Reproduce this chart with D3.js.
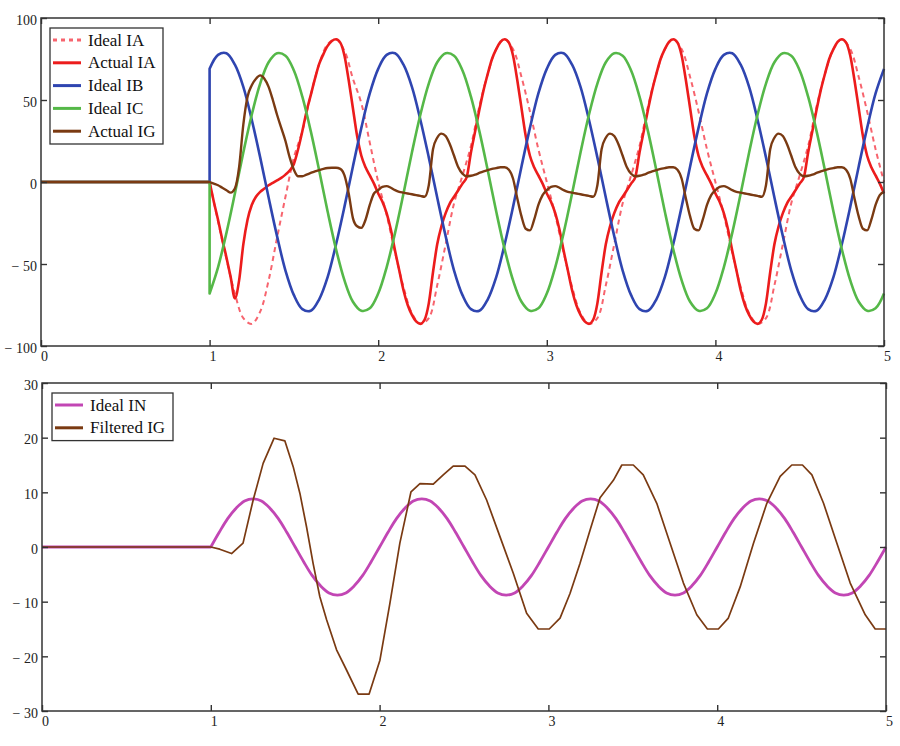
<!DOCTYPE html>
<html>
<head>
<meta charset="utf-8">
<script src="https://cdn.jsdelivr.net/npm/d3@7"></script>
<style>
body { margin: 0; background: #fff; }
svg text { font-family: "Liberation Serif", "Times New Roman", serif; }
</style>
</head>
<body>
<svg id="chart" width="900" height="746"></svg>
<script>
// every current is zero until the fault at t = 1, samples below start there
const sampleStart = 1
const fineStep = 0.025
const coarseStep = 0.05

const xTicks = [0, 1, 2, 3, 4, 5]
const topYTicks = [-100, -50, 0, 50, 100]
const bottomYTicks = [-30, -20, -10, 0, 10, 20, 30]

const topLegend = ['Ideal IA', 'Actual IA', 'Ideal IB', 'Ideal IC', 'Actual IG']
const bottomLegend = ['Ideal IN', 'Filtered IG']

// one line per cycle (coarse step)
const idealIA = [
    0, -24, -47, -68, -83, -86.5, -79, -60, -34, -9, 15, 31, 53, 72, 84, 87, 80, 63, 48, 24,
    0, -20, -43, -64, -80, -86.5, -83, -63, -38, -13, 4, 22, 46, 66, 81, 87, 81, 64, 43, 20,
    0, -20, -43, -64, -80, -86.5, -83, -63, -38, -13, 4, 22, 46, 66, 81, 87, 81, 64, 43, 20,
    0, -20, -43, -64, -80, -86.5, -83, -63, -38, -13, 4, 22, 46, 66, 81, 87, 81, 64, 43, 20,
    0
]

// fine step
const actualIA = [
    0, -12, -23, -35, -46, -58, -71, -60, -38, -23, -14, -9, -6, -4, -2, -0.5, 1, 2.5, 4.5, 7,
    11, 20, 31, 43, 53, 63, 72, 78, 83, 86, 87, 85, 77, 62, 45, 28, 16, 9, 4, -1,
    -7, -12, -19, -29, -42, -54, -66, -75, -81, -85, -86.5, -84, -74, -55, -38, -27, -19, -13, -9, -5,
    -1, 3, 18, 31, 44, 56, 66, 75, 81, 85.5, 87, 85, 77, 62, 45, 28, 16, 9, 4, -1,
    -7, -12, -19, -29, -42, -54, -66, -75, -81, -85, -86.5, -84, -74, -55, -38, -27, -19, -13, -9, -5,
    -1, 3, 18, 31, 44, 56, 66, 75, 81, 85.5, 87, 85, 77, 62, 45, 28, 16, 9, 4, -1,
    -7, -12, -19, -29, -42, -54, -66, -75, -81, -85, -86.5, -84, -74, -55, -38, -27, -19, -13, -9, -5,
    -1, 3, 18, 31, 44, 56, 66, 75, 81, 85.5, 87, 85, 77, 62, 45, 28, 16, 9, 4, -1,
    -7
]

const idealIB = [
    69, 77.5, 78.5, 71.5, 58, 38, 15, -9.5, -33, -54, -69, -77.5, -78.5, -71.5, -58, -38, -15, 9.5, 33, 54,
    69, 77.5, 78.5, 71.5, 58, 38, 15, -9.5, -33, -54, -69, -77.5, -78.5, -71.5, -58, -38, -15, 9.5, 33, 54,
    69, 77.5, 78.5, 71.5, 58, 38, 15, -9.5, -33, -54, -69, -77.5, -78.5, -71.5, -58, -38, -15, 9.5, 33, 54,
    69, 77.5, 78.5, 71.5, 58, 38, 15, -9.5, -33, -54, -69, -77.5, -78.5, -71.5, -58, -38, -15, 9.5, 33, 54,
    69
]

const idealIC = [
    -68, -52, -31, -7, 18, 41, 60, 73, 78.5, 77, 68, 52, 31, 7, -18, -41, -60, -73, -78.5, -77,
    -68, -52, -31, -7, 18, 41, 60, 73, 78.5, 77, 68, 52, 31, 7, -18, -41, -60, -73, -78.5, -77,
    -68, -52, -31, -7, 18, 41, 60, 73, 78.5, 77, 68, 52, 31, 7, -18, -41, -60, -73, -78.5, -77,
    -68, -52, -31, -7, 18, 41, 60, 73, 78.5, 77, 68, 52, 31, 7, -18, -41, -60, -73, -78.5, -77,
    -68
]

// fine step
const actualIG = [
    0, -1, -2, -3.5, -5, -6.5, -4, 9, 35, 52, 59, 63, 65, 63, 58, 50, 41, 33, 25, 15,
    7.5, 3.5, 3.5, 4.5, 5.5, 6.5, 7.3, 8, 8.5, 8.7, 8.7, 8, 4, -7, -22, -27, -28, -23, -14, -7,
    -5, -3, -2.5, -3.5, -5, -6, -6.5, -7, -7.5, -8, -8.5, -9, -2, 20, 27, 29.5, 28, 23, 16, 9,
    5, 3.5, 3.8, 4.5, 5.5, 6.5, 7.3, 8, 8.5, 9, 9, 7.5, 2, -10, -21, -28.5, -29.5, -23, -14, -8,
    -5, -3, -2.5, -3.5, -5, -6, -6.5, -7, -7.5, -8, -8.5, -9, -2, 20, 27, 29.5, 28, 23, 16, 9,
    5, 3.5, 3.8, 4.5, 5.5, 6.5, 7.3, 8, 8.5, 9, 9, 7.5, 2, -10, -21, -28.5, -29.5, -23, -14, -8,
    -5, -3, -2.5, -3.5, -5, -6, -6.5, -7, -7.5, -8, -8.5, -9, -2, 20, 27, 29.5, 28, 23, 16, 9,
    5, 3.5, 3.8, 4.5, 5.5, 6.5, 7.3, 8, 8.5, 9, 9, 7.5, 2, -10, -21, -28.5, -29.5, -23, -14, -8,
    -6
]

const idealIN = [
    0, 2.7, 5.2, 7.1, 8.4, 8.8, 8.4, 7.1, 5.2, 2.7, 0, -2.7, -5.2, -7.1, -8.4, -8.8, -8.4, -7.1, -5.2, -2.7,
    0, 2.7, 5.2, 7.1, 8.4, 8.8, 8.4, 7.1, 5.2, 2.7, 0, -2.7, -5.2, -7.1, -8.4, -8.8, -8.4, -7.1, -5.2, -2.7,
    0, 2.7, 5.2, 7.1, 8.4, 8.8, 8.4, 7.1, 5.2, 2.7, 0, -2.7, -5.2, -7.1, -8.4, -8.8, -8.4, -7.1, -5.2, -2.7,
    0, 2.7, 5.2, 7.1, 8.4, 8.8, 8.4, 7.1, 5.2, 2.7, 0, -2.7, -5.2, -7.1, -8.4, -8.8, -8.4, -7.1, -5.2, -2.7,
    0
]

// the filtered ground current is a coarse polyline: [time, value]
const filteredIG = [
    [1.0, 0], [1.053, -0.4], [1.123, -1.2], [1.191, 0.7], [1.251, 8.6], [1.31, 15.3], [1.375, 19.9],
    [1.439, 19.4], [1.488, 14.7], [1.528, 9.8], [1.567, 3.7], [1.606, -3], [1.646, -9.1], [1.686, -13.3],
    [1.745, -18.8], [1.804, -22.5], [1.873, -26.9], [1.938, -26.9], [2.002, -20.7], [2.061, -10.3],
    [2.12, 0.7], [2.186, 10.1], [2.239, 11.6], [2.318, 11.5], [2.377, 13.2], [2.436, 14.8], [2.506, 14.8],
    [2.565, 13.2], [2.634, 8.6], [2.713, 1.9], [2.792, -4.8], [2.871, -12.1], [2.94, -15], [3.005, -15],
    [3.069, -13], [3.128, -8.5], [3.187, -3], [3.247, 3.1], [3.306, 9], [3.385, 12.2], [3.435, 15],
    [3.503, 15], [3.562, 13.2], [3.642, 8], [3.721, 0.7], [3.8, -6.6], [3.879, -12.4], [3.942, -15],
    [4.007, -15], [4.066, -13], [4.136, -7.3], [4.215, 0.7], [4.294, 8], [4.373, 12.9], [4.442, 15],
    [4.505, 15], [4.561, 13.2], [4.63, 8], [4.709, 0.7], [4.788, -6.6], [4.877, -12.4], [4.936, -15],
    [5.0, -15]
]

const toPoints = (values, step) => values.map((v, i) => [sampleStart + i * step, v])

const svg = d3.select('#chart')

const formatTick = d => d < 0 ? '\u2212 ' + Math.abs(d) : String(d)

const drawPanel = (box, yDomain, yTicks, series, legend) => {

    const xScale = d3.scaleLinear()
        .domain([0, 5])
        .range([box.left, box.right])

    const yScale = d3.scaleLinear()
        .domain(yDomain)
        .range([box.bottom, box.top])

    const straight = d3.line()
        .x(d => xScale(d[0]))
        .y(d => yScale(d[1]))

    series.forEach(s => {
        const smooth = d3.line()
            .x(d => xScale(d[0]))
            .y(d => yScale(d[1]))
            .curve(s.curve)
        // flat lead-in from t = 0 up to the first sample, then the sampled trace
        const lead = [[0, 0], [sampleStart, 0], s.points[0]]
        const path = straight(lead) + smooth(s.points).replace(/^M/, 'L')

        svg.append('path')
            .attr('d', path)
            .attr('fill', 'none')
            .attr('stroke', s.color)
            .attr('stroke-width', s.width)
            .attr('stroke-dasharray', s.dash || null)
            .attr('stroke-linejoin', 'round')
    })

    // axes: inward ticks on all four sides, labels left and bottom
    const xAxis = svg.append('g')
        .attr('transform', `translate(0, ${box.bottom})`)
        .call(d3.axisBottom(xScale).tickValues(xTicks).tickSize(-6).tickPadding(5).tickFormat(formatTick))

    svg.append('g')
        .attr('transform', `translate(0, ${box.top})`)
        .call(d3.axisTop(xScale).tickValues(xTicks).tickSize(-6).tickFormat(''))

    const yAxis = svg.append('g')
        .attr('transform', `translate(${box.left}, 0)`)
        .call(d3.axisLeft(yScale).tickValues(yTicks).tickSize(-6).tickPadding(4).tickFormat(formatTick))

    svg.append('g')
        .attr('transform', `translate(${box.right}, 0)`)
        .call(d3.axisRight(yScale).tickValues(yTicks).tickSize(-6).tickFormat(''))

    svg.selectAll('.domain').remove()
    svg.selectAll('.tick line')
        .attr('stroke', '#333')
        .attr('stroke-width', 1.4)

    xAxis.selectAll('text')
        .attr('dx', 3)
    ;[xAxis, yAxis].forEach(a => a.selectAll('text')
        .attr('font-family', '"Liberation Serif", serif')
        .attr('font-size', 14)
        .attr('fill', '#222'))
    yAxis.selectAll('text').attr('dy', '0.45em')

    svg.append('rect')
        .attr('x', box.left)
        .attr('y', box.top)
        .attr('width', box.right - box.left)
        .attr('height', box.bottom - box.top)
        .attr('fill', 'none')
        .attr('stroke', '#333')
        .attr('stroke-width', 1.5)

    // legend box in the upper left corner
    const lg = svg.append('g')
        .attr('transform', `translate(${legend.x}, ${legend.y})`)

    lg.append('rect')
        .attr('width', legend.w)
        .attr('height', legend.names.length * 22.8 + 2)
        .attr('fill', '#fff')
        .attr('stroke', '#333')
        .attr('stroke-width', 1.3)

    legend.names.forEach((name, i) => {
        const s = series[i]
        const rowY = 12 + i * 22.8
        lg.append('line')
            .attr('x1', 3)
            .attr('x2', 31)
            .attr('y1', rowY)
            .attr('y2', rowY)
            .attr('stroke', s.color)
            .attr('stroke-width', 3)
            .attr('stroke-dasharray', s.dash ? '4,4' : null)
        lg.append('text')
            .attr('x', 38)
            .attr('y', rowY)
            .attr('dy', '0.33em')
            .attr('font-size', 17)
            .attr('fill', '#111')
            .text(name)
    })
}

const smoothCurve = d3.curveMonotoneX
const sineCurve = d3.curveCatmullRom.alpha(0.5)

drawPanel(
    {left: 41, right: 884, top: 18, bottom: 346},
    [-100, 100],
    topYTicks,
    [
        {points: toPoints(idealIA, coarseStep), color: '#f7646e', width: 2, dash: '5,4', curve: sineCurve},
        {points: toPoints(actualIA, fineStep), color: '#ec1c1c', width: 2.6, curve: smoothCurve},
        {points: toPoints(idealIB, coarseStep), color: '#2f45b0', width: 2.6, curve: sineCurve},
        {points: toPoints(idealIC, coarseStep), color: '#55b848', width: 2.6, curve: sineCurve},
        {points: toPoints(actualIG, fineStep), color: '#7a3a12', width: 2.4, curve: smoothCurve}
    ],
    {x: 50, y: 28, w: 113, names: topLegend}
)

drawPanel(
    {left: 42, right: 886, top: 383, bottom: 711},
    [-30, 30],
    bottomYTicks,
    [
        {points: toPoints(idealIN, coarseStep), color: '#c246b4', width: 2.8, curve: sineCurve},
        {points: filteredIG, color: '#7a3a12', width: 1.7, curve: d3.curveLinear}
    ],
    {x: 52, y: 393, w: 121, names: bottomLegend}
)
</script>
</body>
</html>
